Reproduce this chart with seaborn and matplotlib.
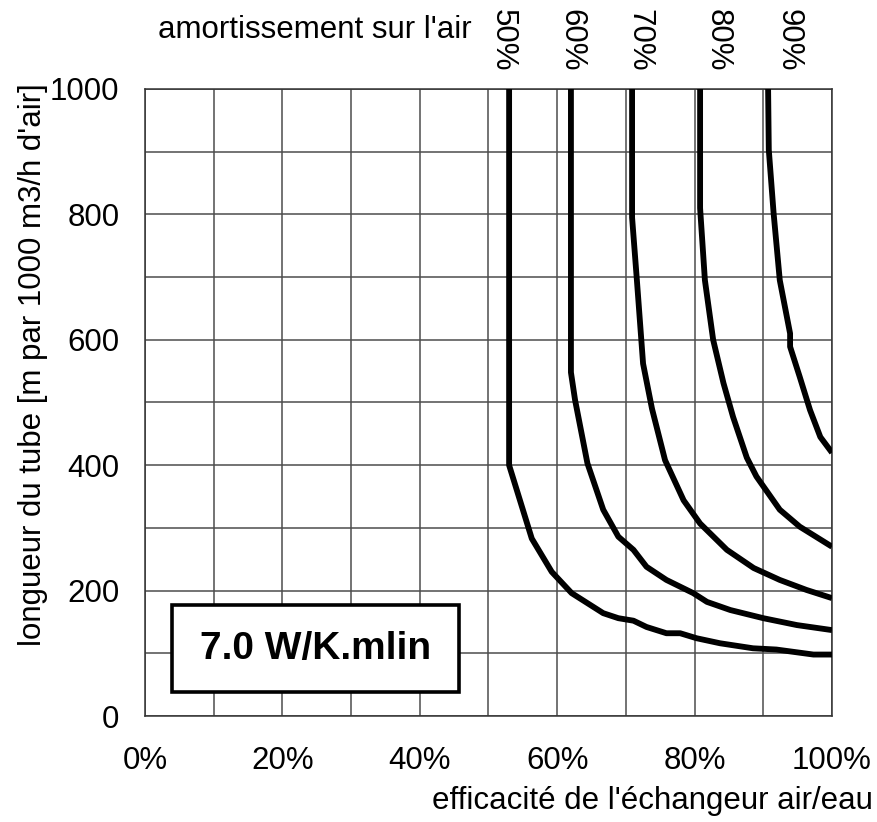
import matplotlib
matplotlib.use("Agg")
import matplotlib.pyplot as plt
import seaborn as sns
import pandas as pd
from matplotlib.patches import Rectangle

# ---- data ----
series_names = ["50%", "60%", "70%", "80%", "90%"]

x_50 = [0.530, 0.530, 0.563, 0.592, 0.621, 0.667, 0.689, 0.711, 0.730, 0.759, 0.779, 0.803, 0.837, 0.885, 0.919, 0.973, 1.000]
y_50 = [1000, 400, 283, 230, 196, 164, 156, 152, 142, 132, 132, 124, 116, 108, 106, 98, 98]

x_60 = [0.620, 0.620, 0.626, 0.644, 0.667, 0.689, 0.711, 0.730, 0.759, 0.798, 0.818, 0.852, 0.900, 0.949, 1.000]
y_60 = [1000, 548, 504, 403, 329, 286, 265, 238, 217, 196, 182, 169, 156, 145, 137]

x_70 = [0.709, 0.709, 0.716, 0.725, 0.738, 0.757, 0.784, 0.808, 0.847, 0.886, 0.924, 0.963, 1.000]
y_70 = [1000, 795, 695, 562, 490, 408, 344, 307, 265, 236, 217, 201, 188]

x_80 = [0.808, 0.808, 0.815, 0.827, 0.842, 0.856, 0.876, 0.890, 0.924, 0.953, 1.000]
y_80 = [1000, 810, 695, 600, 531, 477, 412, 382, 329, 302, 270]

x_90 = [0.907, 0.908, 0.915, 0.924, 0.939, 0.939, 0.953, 0.968, 0.983, 1.000]
y_90 = [1000, 903, 802, 695, 610, 589, 541, 488, 445, 420]

series_label_x = [0.520, 0.620, 0.720, 0.834, 0.936]

x_ticks = [0.0, 0.2, 0.4, 0.6, 0.8, 1.0]
x_tick_labels = ["0%", "20%", "40%", "60%", "80%", "100%"]
y_ticks = [0, 200, 400, 600, 800, 1000]
y_tick_labels = ["0", "200", "400", "600", "800", "1000"]

title_text = "amortissement sur l'air"
x_label = "efficacité de l'échangeur air/eau"
y_label = "longueur du tube [m par 1000 m3/h d'air]"
box_text = "7.0 W/K.mlin"

# ---- build long-form table ----
frames = []
for name, xs, ys in zip(series_names,
                        [x_50, x_60, x_70, x_80, x_90],
                        [y_50, y_60, y_70, y_80, y_90]):
    frames.append(pd.DataFrame({"eff": xs, "len": ys, "amort": name}))
df = pd.concat(frames, ignore_index=True)

sns.set_theme(style="white")
plt.rcParams["font.family"] = ["Liberation Sans", "DejaVu Sans"]
plt.rcParams["text.color"] = "black"
plt.rcParams["axes.labelcolor"] = "black"
plt.rcParams["xtick.color"] = "black"
plt.rcParams["ytick.color"] = "black"
plt.rcParams["xtick.labelcolor"] = "black"
plt.rcParams["ytick.labelcolor"] = "black"

FS = 22.5

fig = plt.figure(figsize=(8.78, 8.22), dpi=100)
ax = fig.add_axes([145 / 878, 1 - 716 / 822, 687 / 878, 627 / 822])

sns.lineplot(data=df, x="eff", y="len", hue="amort", units="amort",
             estimator=None, sort=False,
             palette=["black"] * len(series_names), linewidth=4.2,
             legend=False, ax=ax, solid_joinstyle="round",
             solid_capstyle="butt", zorder=3)

ax.set_xlim(0, 1)
ax.set_ylim(0, 1000)

grid_color = "#4d4d4d"
ax.set_xticks([i / 10 for i in range(11)], minor=True)
ax.set_yticks(list(range(0, 1001, 100)), minor=True)
ax.set_xticks(x_ticks)
ax.set_xticklabels(x_tick_labels, fontsize=FS, color="black")
ax.set_yticks(y_ticks)
ax.set_yticklabels(y_tick_labels, fontsize=FS, color="black")
ax.grid(True, which="both", color=grid_color, linewidth=1.1)
ax.tick_params(axis="both", which="major", direction="out", length=6.5,
               width=1.0, color="#333333", labelsize=FS)
ax.tick_params(axis="x", which="major", pad=15)
ax.tick_params(axis="y", which="major", pad=12)
ax.tick_params(axis="both", which="minor", length=0)
for sp in ax.spines.values():
    sp.set_color("#333333")
    sp.set_linewidth(1.1)

ax.set_xlabel(x_label, fontsize=FS, ha="right", color="black")
ax.xaxis.set_label_coords(1.0597, -0.1116)
ax.set_ylabel(y_label, fontsize=FS, color="black")
ax.yaxis.set_label_coords(-0.141, 0.561)

# series labels above the plot
for name, lx in zip(series_names, series_label_x):
    ax.text(lx, 1.078, name, rotation=-90, ha="center", va="center",
            fontsize=FS, color="black",
            transform=ax.get_xaxis_transform(), clip_on=False)

ax.text(0.2475, 1.094, title_text, ha="center", va="center", fontsize=FS,
        color="black", transform=ax.transAxes, clip_on=False)

# boxed annotation
rect = Rectangle((0.039, 0.038), 0.418, 0.139, transform=ax.transAxes,
                 facecolor="white", edgecolor="black", linewidth=2.6, zorder=4)
ax.add_patch(rect)
ax.text(0.039 + 0.418 / 2, 0.038 + 0.139 / 2, box_text, transform=ax.transAxes,
        ha="center", va="center", fontsize=28, fontweight="bold",
        color="black", zorder=5)

fig.savefig("out.png", dpi=100)
